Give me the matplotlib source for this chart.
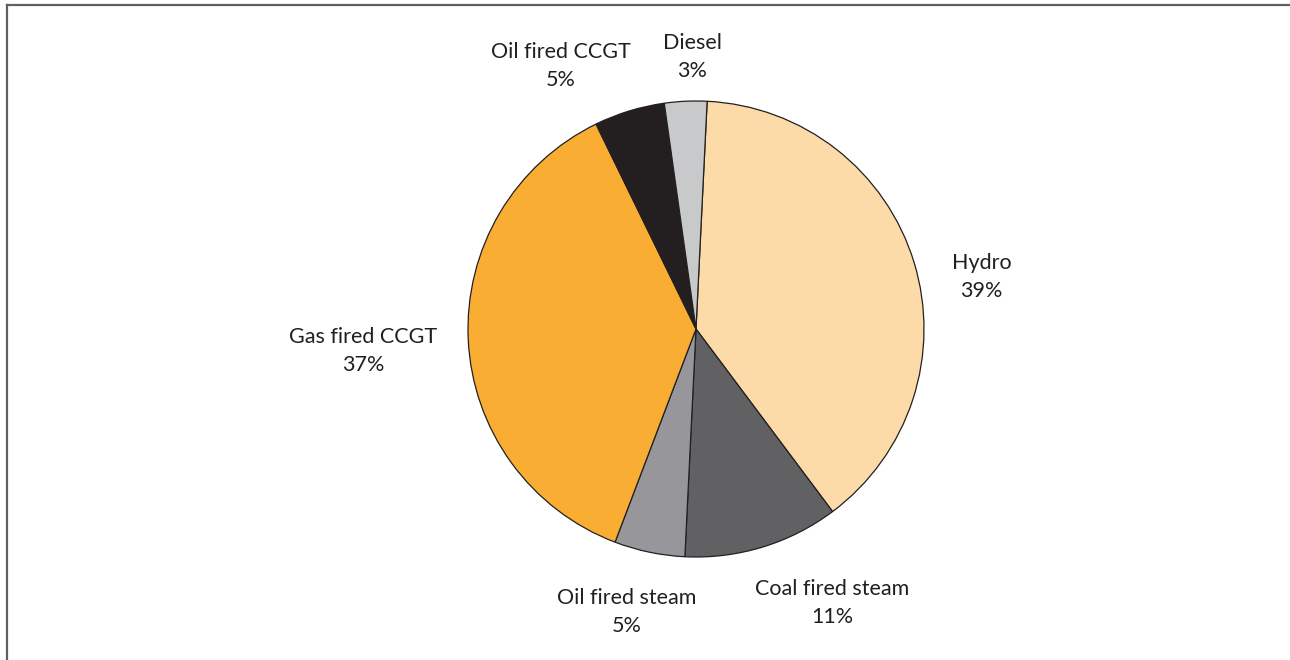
import matplotlib
matplotlib.use("Agg")
import matplotlib.pyplot as plt
from matplotlib.lines import Line2D

# Generation mix by plant type (%)
sources = ["Hydro", "Coal fired steam", "Oil fired steam", "Gas fired CCGT", "Oil fired CCGT", "Diesel"]
shares = [39, 11, 5, 37, 5, 3]
colours = ["#FDDBA8", "#616062", "#97979B", "#F9AE33", "#231F20", "#C8C9CB"]

# label centres (in pie radii, relative to the pie centre)
label_pos = [(1.253, 0.227), (0.598, -1.201), (-0.306, -1.240),
             (-1.459, -0.096), (-0.594, 1.153), (-0.017, 1.192)]

plt.rcParams['font.family'] = ['Lato', 'DejaVu Sans']

W, H = 1290, 660
fig = plt.figure(figsize=(W / 100, H / 100), dpi=100)
ax = fig.add_axes([0, 0, 1, 1])

cx, cy, r = 696, 329, 228
ax.pie(shares, colors=colours, startangle=87.2, counterclock=False,
       wedgeprops=dict(edgecolor="#231F20", linewidth=0.9))
ax.set_xlim(-cx / r, (W - cx) / r)
ax.set_ylim(-(H - cy) / r, cy / r)
ax.set_aspect('equal')
ax.axis('off')

for name, val, (lx, ly) in zip(sources, shares, label_pos):
    ax.text(lx, ly, f"{name}\n{val}%", ha='center', va='center',
            fontsize=15.5, color="#231F20", linespacing=1.5)

# frame lines along the top and left edges
fig.add_artist(Line2D([6.5 / W, 1], [1 - 5 / H, 1 - 5 / H], color="#606060", lw=1.6,
                      transform=fig.transFigure))
fig.add_artist(Line2D([6.5 / W, 6.5 / W], [0, 1 - 5 / H], color="#606060", lw=1.6,
                      transform=fig.transFigure))

fig.savefig("out.png", dpi=100)
